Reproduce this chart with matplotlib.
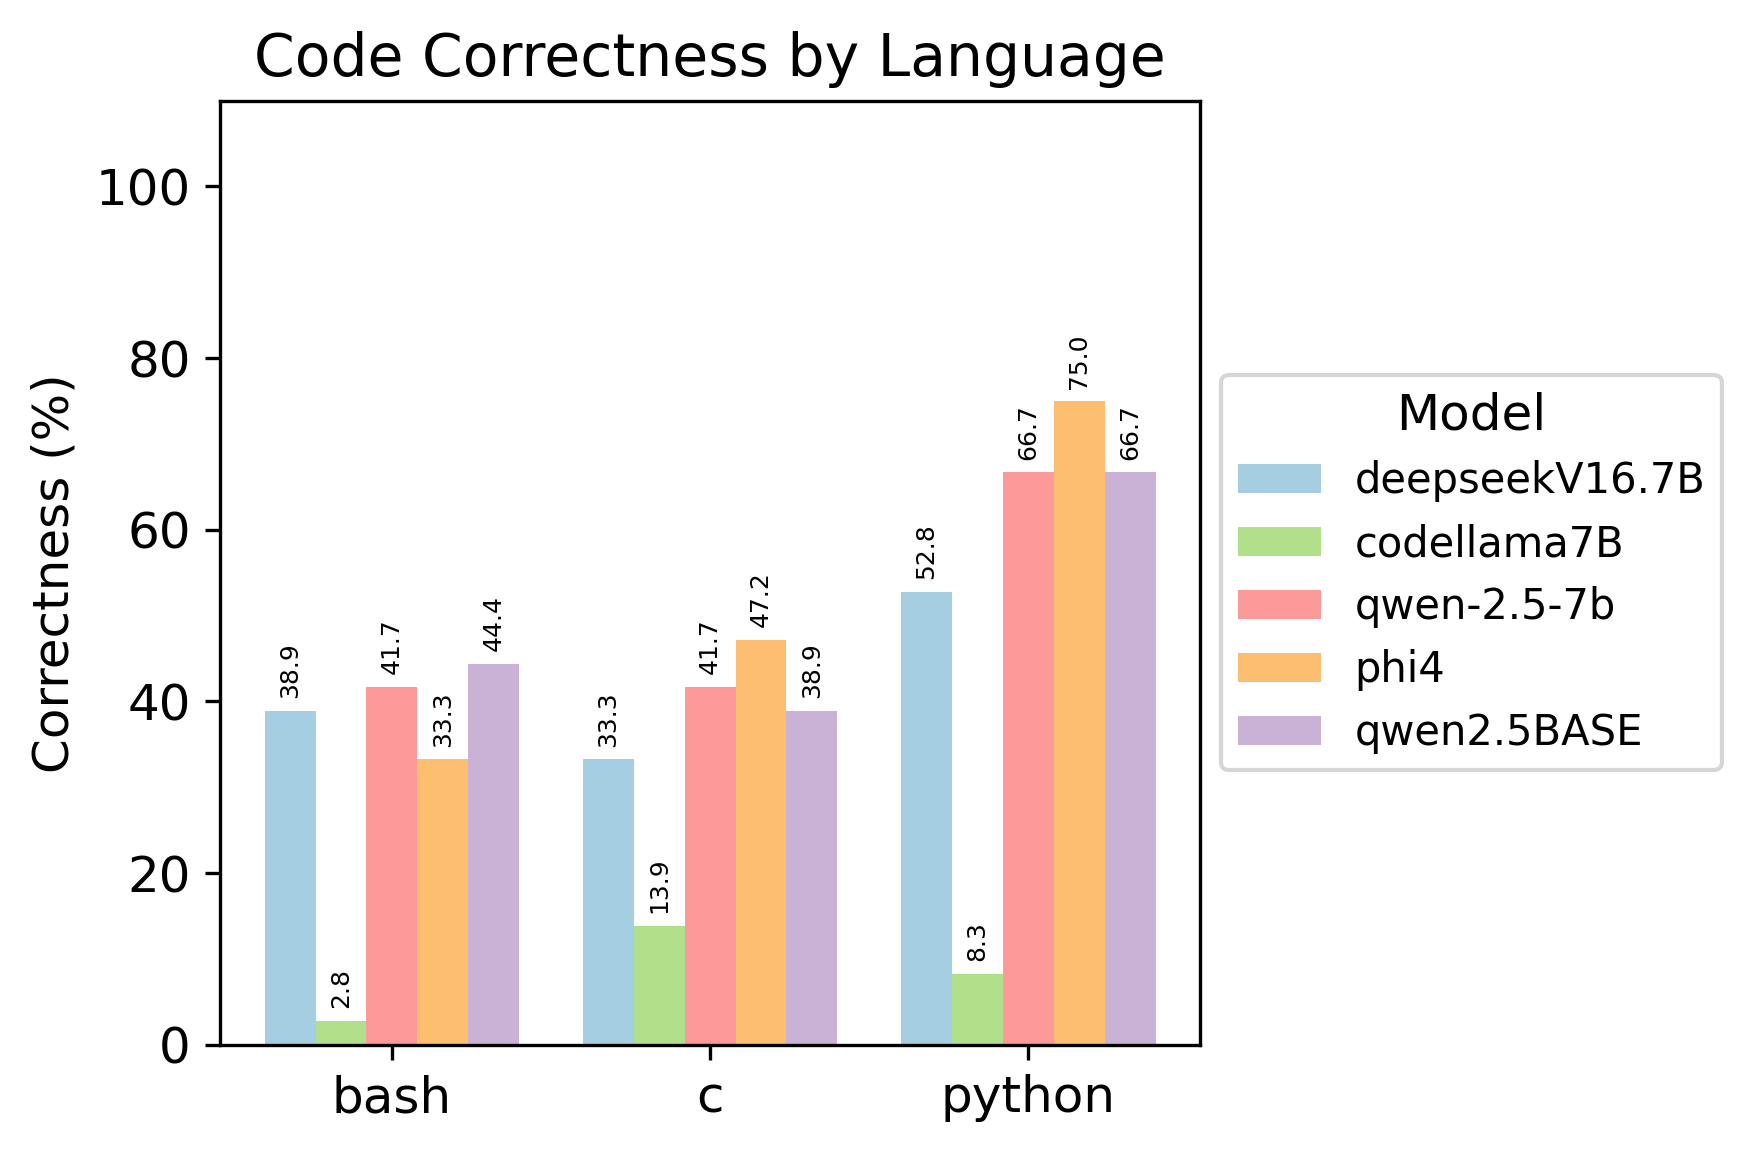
import matplotlib
matplotlib.use("Agg")
import matplotlib.pyplot as plt
import numpy as np

# ---------------------------------------------------------
# Data
# ---------------------------------------------------------
languages = ["bash", "c", "python"]
models = ["deepseekV16.7B", "codellama7B", "qwen-2.5-7b", "phi4", "qwen2.5BASE"]

correctness = {
    "deepseekV16.7B": [38.9, 33.3, 52.8],
    "codellama7B": [2.8, 13.9, 8.3],
    "qwen-2.5-7b": [41.7, 41.7, 66.7],
    "phi4": [33.3, 47.2, 75.0],
    "qwen2.5BASE": [44.4, 38.9, 66.7],
}

colors = ["#a6cee3", "#b2df8a", "#fb9a99", "#fdbf6f", "#cab2d6"]

# ---------------------------------------------------------
# Plot
# ---------------------------------------------------------
fig = plt.figure(figsize=(5.84, 3.84), dpi=300)
ax = fig.add_axes([0.1256, 0.093, 0.5594, 0.8197])

x = np.arange(len(languages))
width = 0.8 / len(models)

for i, m in enumerate(models):
    offset = (i - (len(models) - 1) / 2) * width
    bars = ax.bar(x + offset, correctness[m], width, color=colors[i], label=m)
    ax.bar_label(bars, labels=[f"{v:.1f}" for v in correctness[m]],
                 padding=3, rotation=90, fontsize=6)

ax.set_title("Code Correctness by Language", fontsize=14)
ax.set_ylabel("Correctness (%)", fontsize=12)
ax.set_xticks(x)
ax.set_xticklabels(languages, fontsize=12)
ax.tick_params(axis="y", labelsize=12)
ax.set_ylim(0, 110)

ax.legend(title="Model", loc="center left", bbox_to_anchor=(1.0, 0.5),
          fontsize=10, title_fontsize=12)

fig.savefig("out.png", dpi=300)
